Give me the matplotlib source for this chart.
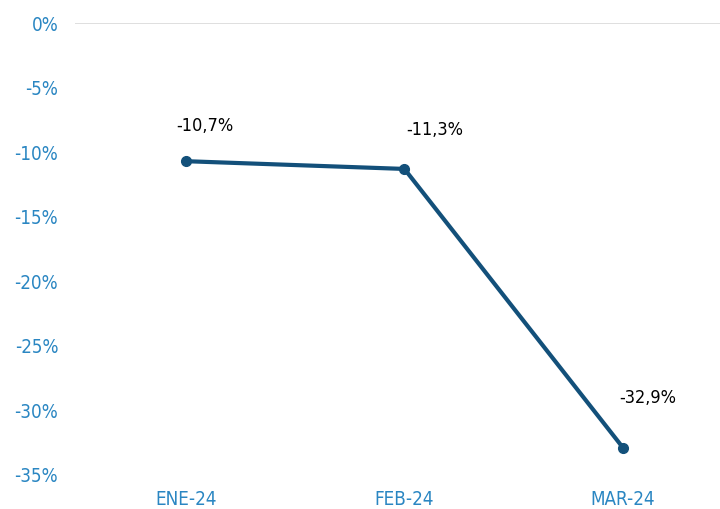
import matplotlib.pyplot as plt
from matplotlib.ticker import FuncFormatter

meses = ["ENE-24", "FEB-24", "MAR-24"]
variacion = [-10.7, -11.3, -32.9]
etiquetas = ["-10,7%", "-11,3%", "-32,9%"]

# desplazamiento de las etiquetas (puntos)
offsets = [(14, 25), (22, 28), (18, 36)]

plt.rcParams["font.family"] = ["DejaVu Sans"]
plt.rcParams["font.stretch"] = "condensed"

fig = plt.figure(figsize=(7.2, 5.09), dpi=100)
ax = fig.add_axes([0.104, 0.0668, 0.896, 0.888])

x = list(range(len(meses)))
ax.plot(x, variacion, color="#13507A", linewidth=3, marker="o", markersize=7,
        solid_capstyle="round", zorder=3)

for xi, yi, txt, off in zip(x, variacion, etiquetas, offsets):
    ax.annotate(txt, (xi, yi), xytext=off, textcoords="offset points",
                ha="center", va="center", fontsize=13, color="black",
                fontstretch="condensed")

ax.axhline(0, color="#D9D9D9", linewidth=1.2, zorder=1)

ax.set_ylim(-35, 0)
ax.set_yticks(range(-35, 1, 5))
ax.yaxis.set_major_formatter(FuncFormatter(lambda v, p: f"{v:.0f}%"))
ax.set_xlim(-0.507, 2.443)
ax.set_xticks(x)
ax.set_xticklabels(meses)

for s in ax.spines.values():
    s.set_visible(False)
ax.tick_params(length=0, labelsize=13.5, colors="#2A86C2")
ax.tick_params(axis="y", pad=12)
ax.tick_params(axis="x", pad=11)

fig.savefig("out.png", dpi=100)
